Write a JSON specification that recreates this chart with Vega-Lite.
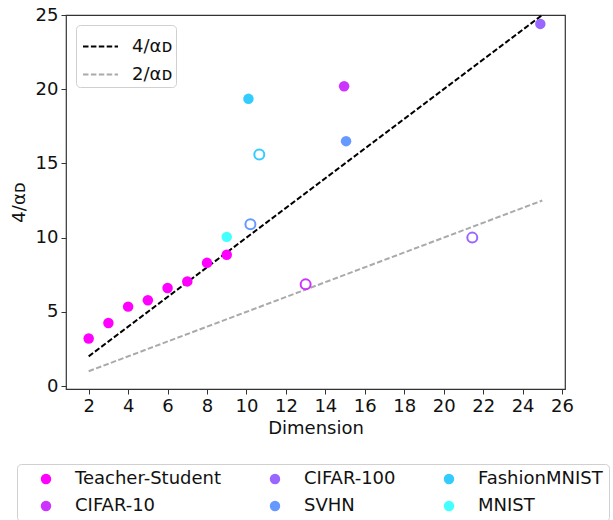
{
  "$schema": "https://vega.github.io/schema/vega-lite/v6.json",
  "width": 499,
  "height": 374,
  "autosize": {"type": "none"},
  "padding": {"left": 66, "top": 15, "right": 48, "bottom": 131},
  "config": {
    "font": "DejaVu Sans",
    "view": {"stroke": "#333", "strokeWidth": 1.2},
    "axis": {
      "labelFontSize": 18,
      "titleFontSize": 18,
      "titleFontWeight": "normal",
      "labelColor": "#111",
      "titleColor": "#111",
      "domain": false,
      "grid": false,
      "tickColor": "#333",
      "tickSize": 5,
      "labelPadding": 3
    },
    "legend": {
      "labelFontSize": 18,
      "labelColor": "#111",
      "strokeColor": "#d0d0d0",
      "cornerRadius": 4
    }
  },
  "datasets": {
    "points": [
      {"dataset": "Teacher-Student", "dim": 2, "value": 3.2, "filled": true},
      {"dataset": "Teacher-Student", "dim": 3, "value": 4.25, "filled": true},
      {"dataset": "Teacher-Student", "dim": 4, "value": 5.35, "filled": true},
      {"dataset": "Teacher-Student", "dim": 5, "value": 5.78, "filled": true},
      {"dataset": "Teacher-Student", "dim": 6, "value": 6.6, "filled": true},
      {"dataset": "Teacher-Student", "dim": 7, "value": 7.05, "filled": true},
      {"dataset": "Teacher-Student", "dim": 8, "value": 8.3, "filled": true},
      {"dataset": "Teacher-Student", "dim": 9, "value": 8.85, "filled": true},
      {"dataset": "MNIST", "dim": 9, "value": 10.05, "filled": true},
      {"dataset": "SVHN", "dim": 10.2, "value": 10.9, "filled": false},
      {"dataset": "FashionMNIST", "dim": 10.1, "value": 19.35, "filled": true},
      {"dataset": "FashionMNIST", "dim": 10.65, "value": 15.6, "filled": false},
      {"dataset": "CIFAR-10", "dim": 13.0, "value": 6.85, "filled": false},
      {"dataset": "CIFAR-10", "dim": 14.95, "value": 20.2, "filled": true},
      {"dataset": "SVHN", "dim": 15.05, "value": 16.5, "filled": true},
      {"dataset": "CIFAR-100", "dim": 21.45, "value": 10.0, "filled": false},
      {"dataset": "CIFAR-100", "dim": 24.9, "value": 24.4, "filled": true}
    ],
    "lines": [
      {"series": "4/αᴅ", "dim": 2, "value": 2},
      {"series": "4/αᴅ", "dim": 25, "value": 25},
      {"series": "2/αᴅ", "dim": 2, "value": 1},
      {"series": "2/αᴅ", "dim": 25, "value": 12.5}
    ]
  },
  "layer": [
    {
      "data": {"name": "lines"},
      "mark": {"type": "line", "strokeWidth": 2},
      "encoding": {
        "x": {"field": "dim", "type": "quantitative", "scale": {"domain": [0.85, 26.15], "nice": false, "zero": false},
              "axis": {"title": "Dimension", "values": [2,4,6,8,10,12,14,16,18,20,22,24,26], "titlePadding": 4}},
        "y": {"field": "value", "type": "quantitative", "scale": {"domain": [-0.2, 25], "nice": false, "zero": false},
              "axis": {"title": "4/αᴅ", "values": [0,5,10,15,20,25], "titlePadding": 7}},
        "stroke": {"field": "series", "type": "nominal",
                   "scale": {"domain": ["4/αᴅ", "2/αᴅ"], "range": ["#000000", "#aaaaaa"]},
                   "legend": {"title": null, "orient": "top-left", "offset": 10, "padding": 3, "symbolOffset": 3, "symbolType": "stroke", "symbolSize": 1225, "symbolStrokeWidth": 2, "labelOffset": 13, "rowPadding": -2}},
        "strokeDash": {"field": "series", "type": "nominal",
                       "scale": {"domain": ["4/αᴅ", "2/αᴅ"], "range": [[5.5, 2.4], [5.5, 2.4]]},
                       "legend": {"title": null, "orient": "top-left", "offset": 10, "padding": 3, "symbolOffset": 3, "symbolType": "stroke", "symbolSize": 1225, "symbolStrokeWidth": 2, "labelOffset": 13, "rowPadding": -2}}
      }
    },
    {
      "data": {"name": "points"},
      "transform": [{"filter": "datum.filled"}],
      "mark": {"type": "point", "shape": "circle", "filled": true, "size": 110, "opacity": 1},
      "encoding": {
        "x": {"field": "dim", "type": "quantitative"},
        "y": {"field": "value", "type": "quantitative"},
        "color": {"field": "dataset", "type": "nominal",
                  "scale": {"domain": ["Teacher-Student", "CIFAR-10", "CIFAR-100", "SVHN", "FashionMNIST", "MNIST"],
                            "range": ["#ff00ff", "#cc33ff", "#9966ff", "#6699ff", "#33ccff", "#44ffff"]},
                  "legend": {"title": null, "orient": "none", "legendX": -49, "legendY": 449, "columns": 3, "padding": 6, "symbolOffset": 14, "symbolSize": 80, "labelOffset": 20, "columnPadding": 30, "rowPadding": 9, "symbolType": "circle"}}
      }
    },
    {
      "data": {"name": "points"},
      "transform": [{"filter": "!datum.filled"}],
      "mark": {"type": "point", "shape": "circle", "filled": false, "size": 100, "strokeWidth": 2, "opacity": 1},
      "encoding": {
        "x": {"field": "dim", "type": "quantitative"},
        "y": {"field": "value", "type": "quantitative"},
        "color": {"field": "dataset", "type": "nominal"}
      }
    }
  ]
}
